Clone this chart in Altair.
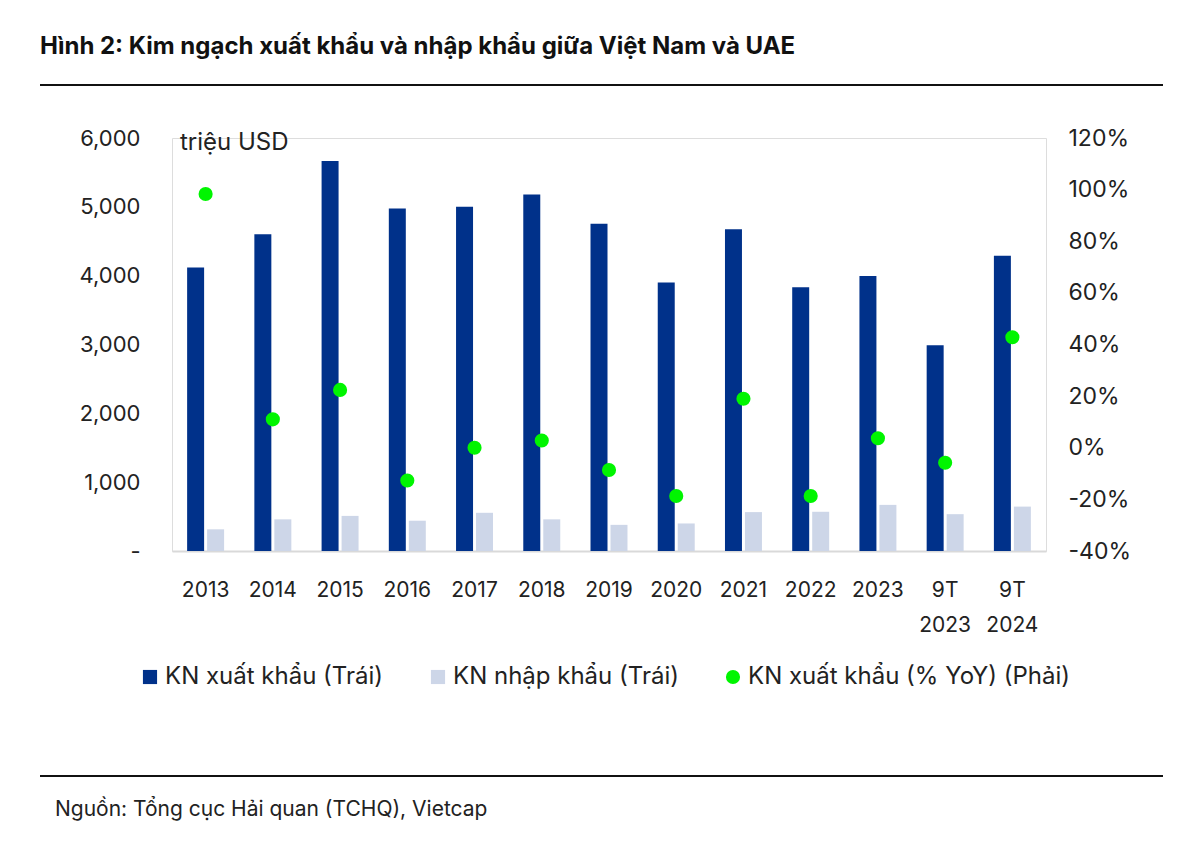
import altair as alt
import pandas as pd

categories = ["2013", "2014", "2015", "2016", "2017", "2018", "2019", "2020",
              "2021", "2022", "2023", "9T 2023", "9T 2024"]
export_vals = [4120, 4600, 5665, 4975, 5000, 5180, 4755, 3900, 4675, 3830, 3995, 2990, 4290]
import_vals = [315, 460, 510, 440, 555, 460, 380, 400, 565, 570, 670, 535, 645]
yoy_vals = [98.3, 11.0, 22.4, -12.7, 0.0, 2.8, -8.6, -18.7, 19.0, -18.7, 3.7, -5.8, 42.8]

s_exp = "KN xuất khẩu (Trái)"
s_imp = "KN nhập khẩu (Trái)"
s_yoy = "KN xuất khẩu (% YoY) (Phải)"
series_names = [s_exp, s_imp, s_yoy]
series_colors = ["#00318A", "#CDD6E8", "#00F500"]
series_shapes = ["square", "square", "circle"]

left_ticks = [0, 1000, 2000, 3000, 4000, 5000, 6000]
right_ticks = [-40, -20, 0, 20, 40, 60, 80, 100, 120]

title_text = "Hình 2: Kim ngạch xuất khẩu và nhập khẩu giữa Việt Nam và UAE"
source_text = "Nguồn: Tổng cục Hải quan (TCHQ), Vietcap"
unit_text = "triệu USD"

bars_df = pd.DataFrame({
    "category": categories * 2,
    "series": [s_exp] * len(categories) + [s_imp] * len(categories),
    "value": export_vals + import_vals,
})
yoy_df = pd.DataFrame({"category": categories, "series": s_yoy, "yoy": yoy_vals})

FONT = "Inter"
TXT = "#222222"

color_scale = alt.Scale(domain=series_names, range=series_colors)
shape_scale = alt.Scale(domain=series_names, range=series_shapes)
legend = alt.Legend(
    orient="none", legendX=-34, legendY=527, direction="horizontal", title=None,
    labelFontSize=24, labelFont=FONT, labelColor=TXT, symbolSize=200,
    columnPadding=42, labelOffset=3, symbolStrokeWidth=0, labelLimit=500,
)

x_enc = alt.X(
    "category:N", sort=categories, title=None,
    scale=alt.Scale(paddingInner=0.45, paddingOuter=0.225),
    axis=alt.Axis(
        labelExpr="split(datum.value, ' ')", labelAngle=0, labelFontSize=21,
        labelFont=FONT, labelColor=TXT, labelLineHeight=35, labelPadding=28,
        ticks=False, domainColor="#D9D9D9", domainWidth=2, grid=False,
    ),
)

bars = alt.Chart(bars_df).mark_bar().encode(
    x=x_enc,
    xOffset=alt.XOffset("series:N", sort=[s_exp, s_imp],
                        scale=alt.Scale(domain=[s_exp, s_imp], paddingInner=0.15, paddingOuter=0)),
    y=alt.Y("value:Q", title=None,
            scale=alt.Scale(domain=[0, 6000], nice=False),
            axis=alt.Axis(values=left_ticks, orient="left", grid=False, domain=False, ticks=False,
                          labelExpr="datum.value == 0 ? '-\u00a0\u00a0' : format(datum.value, ',')",
                          labelFontSize=22, labelFont=FONT, labelColor=TXT, labelPadding=32)),
    color=alt.Color("series:N", scale=color_scale, legend=legend),
)

points = alt.Chart(yoy_df).mark_point(filled=True, opacity=1, size=200).encode(
    x=x_enc,
    y=alt.Y("yoy:Q", title=None,
            scale=alt.Scale(domain=[-40, 120], nice=False),
            axis=alt.Axis(values=right_ticks, orient="right", grid=False, domain=False, ticks=False,
                          labelExpr="datum.value + '%'", labelFontSize=23, labelFont=FONT,
                          labelColor=TXT, labelPadding=22)),
    color=alt.Color("series:N", scale=color_scale, legend=legend),
    shape=alt.Shape("series:N", scale=shape_scale, legend=legend),
)

main = alt.layer(bars, points).resolve_scale(y="independent")

title_mark = alt.Chart(pd.DataFrame({"t": [title_text]})).mark_text(
    align="left", baseline="middle", font=FONT, fontSize=24, fontWeight="bold", color="#111111"
).encode(text="t:N", x=alt.value(-132), y=alt.value(-91))

unit_mark = alt.Chart(pd.DataFrame({"t": [unit_text]})).mark_text(
    align="left", baseline="middle", font=FONT, fontSize=24, color=TXT
).encode(text="t:N", x=alt.value(8), y=alt.value(5))

source_mark = alt.Chart(pd.DataFrame({"t": [source_text]})).mark_text(
    align="left", baseline="middle", font=FONT, fontSize=21, color=TXT
).encode(text="t:N", x=alt.value(-117), y=alt.value(672))

top_line = alt.Chart(pd.DataFrame({"a": [0]})).mark_rule(color="#111111", strokeWidth=2).encode(
    x=alt.value(-132), x2=alt.value(991), y=alt.value(-53))
bottom_line = alt.Chart(pd.DataFrame({"a": [0]})).mark_rule(color="#111111", strokeWidth=2).encode(
    x=alt.value(-132), x2=alt.value(991), y=alt.value(638))

chart = alt.layer(
    main, title_mark, unit_mark, source_mark, top_line, bottom_line
).properties(
    width=874, height=413,
    padding={"left": 164, "top": 130, "right": 146, "bottom": 286},
    autosize=alt.AutoSizeParams(type="none"),
).configure_view(stroke=None).configure(background="white")

chart.save("out.html", embed_options={"renderer": "svg", "actions": False})
